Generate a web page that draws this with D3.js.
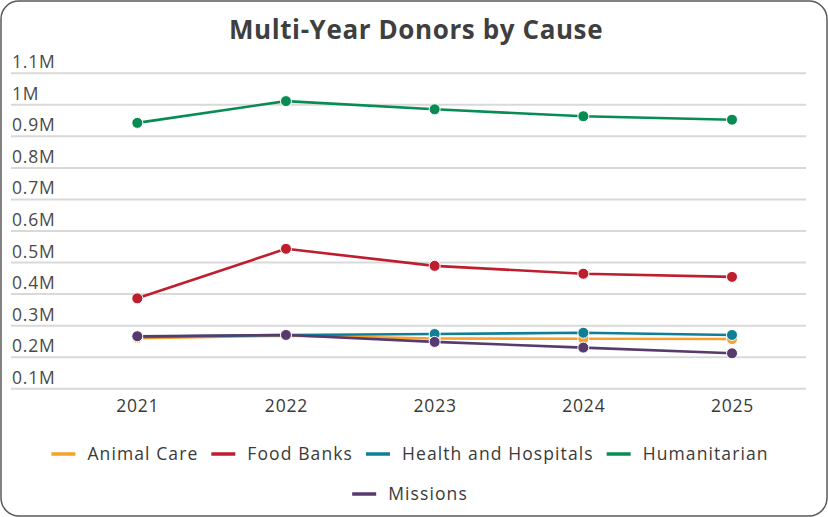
<!DOCTYPE html>
<html>
<head>
<meta charset="utf-8">
<script src="https://cdn.jsdelivr.net/npm/d3@7"></script>
<style>
  html, body { margin: 0; padding: 0; background: #fff; }
  svg { display: block; font-family: "Open Sans", "Noto Sans", sans-serif; }
</style>
</head>
<body>
<svg id="chart" width="828" height="517"></svg>
<script>
// Years on the x axis
const years = ["2021", "2022", "2023", "2024", "2025"];

// Multi-year donors per cause
const animalCare      = [259000, 267000, 258000, 257000, 256000];
const foodBanks       = [385000, 542000, 488000, 463000, 453000];
const healthHospitals = [263000, 269000, 272000, 276000, 269000];
const humanitarian    = [941000, 1010000, 984000, 962000, 951000];
const missions        = [265000, 269000, 247000, 229000, 211000];

const seriesNames  = ["Animal Care", "Food Banks", "Health and Hospitals", "Humanitarian", "Missions"];
const seriesColors = ["#f7a12c", "#be1e2d", "#0f7f97", "#078c53", "#573a6e"];

// Y axis ticks and their labels
const yTicks  = [100000, 200000, 300000, 400000, 500000, 600000, 700000, 800000, 900000, 1000000, 1100000];
const yLabels = ["0.1M", "0.2M", "0.3M", "0.4M", "0.5M", "0.6M", "0.7M", "0.8M", "0.9M", "1M", "1.1M"];

const series = [animalCare, foodBanks, healthHospitals, humanitarian, missions].map((values, i) => ({
  name: seriesNames[i],
  color: seriesColors[i],
  values: values.map((v, j) => ({ year: years[j], value: v }))
}));

const svg = d3.select("#chart");
const W = 828, H = 517;

// Card frame
svg.append("rect")
  .attr("x", 1).attr("y", 1)
  .attr("width", W - 2).attr("height", H - 2)
  .attr("rx", 18).attr("ry", 18)
  .attr("fill", "#fff")
  .attr("stroke", "#595959")
  .attr("stroke-width", 1.5);

// Title
svg.append("text")
  .attr("x", 416).attr("y", 39)
  .attr("text-anchor", "middle")
  .attr("font-size", 26)
  .attr("font-weight", 700)
  .attr("letter-spacing", 0.6)
  .attr("fill", "#3f3f3f")
  .text("Multi-Year Donors by Cause");

const gridLeft = 11, gridRight = 806;

const x = d3.scalePoint().domain(years).range([137.3, 732]);
const y = d3.scaleLinear().domain([100000, 1100000]).range([388.3, 72.7]);

// Gridlines with labels sitting on top of each line
const yAxis = svg.append("g")
  .attr("transform", `translate(${gridLeft},0)`)
  .call(d3.axisRight(y)
    .tickValues(yTicks)
    .tickSize(gridRight - gridLeft)
    .tickFormat((d, i) => yLabels[i]));
yAxis.select(".domain").remove();
yAxis.selectAll(".tick line")
  .attr("stroke", "#d9d9d9")
  .attr("stroke-width", 2);
yAxis.selectAll(".tick text")
  .attr("x", 1)
  .attr("y", -5)
  .attr("dy", 0)
  .attr("text-anchor", "start")
  .attr("font-size", 17.5)
  .attr("letter-spacing", 0.8)
  .attr("font-family", "Open Sans, sans-serif")
  .attr("fill", "#4a4a4a");

// Year labels
const xAxis = svg.append("g")
  .attr("transform", "translate(0,388.3)")
  .call(d3.axisBottom(x).tickSize(0).tickPadding(11));
xAxis.select(".domain").remove();
xAxis.selectAll(".tick text")
  .attr("font-size", 17.5)
  .attr("letter-spacing", 0.8)
  .attr("font-family", "Open Sans, sans-serif")
  .attr("fill", "#3a3a3a");

// Lines and markers, one group per series
const line = d3.line().x(d => x(d.year)).y(d => y(d.value));

series.forEach(s => {
  const g = svg.append("g");
  g.append("path")
    .datum(s.values)
    .attr("d", line)
    .attr("fill", "none")
    .attr("stroke", s.color)
    .attr("stroke-width", 2.6)
    .attr("stroke-linejoin", "round");
  g.selectAll("circle")
    .data(s.values)
    .join("circle")
    .attr("cx", d => x(d.year))
    .attr("cy", d => y(d.value))
    .attr("r", 5.5)
    .attr("fill", s.color)
    .attr("stroke", "#fff")
    .attr("stroke-width", 1);
});

// Legend: wraps into centred rows
const legend = svg.append("g");
const symbolW = 24, symbolGap = 12, itemGap = 13, rowMax = 780;
const legendCenter = 410;
const rowY = [454, 494];

const items = series.map(s => {
  const g = legend.append("g");
  g.append("line")
    .attr("x1", 0).attr("x2", symbolW)
    .attr("y1", 0).attr("y2", 0)
    .attr("stroke", s.color)
    .attr("stroke-width", 3.5);
  const t = g.append("text")
    .attr("x", symbolW + symbolGap)
    .attr("y", 0)
    .attr("dy", "0.35em")
    .attr("font-size", 17.5)
    .attr("letter-spacing", 1.1)
    .attr("fill", "#3a3a3a")
    .text(s.name);
  const w = symbolW + symbolGap + t.node().getComputedTextLength();
  return { g, w };
});

const rows = [[]];
let acc = 0;
items.forEach(it => {
  const add = (rows[rows.length - 1].length ? itemGap : 0) + it.w;
  if (acc + add > rowMax && rows[rows.length - 1].length) {
    rows.push([it]);
    acc = it.w;
  } else {
    rows[rows.length - 1].push(it);
    acc += add;
  }
});

rows.forEach((row, r) => {
  const total = d3.sum(row, d => d.w) + itemGap * (row.length - 1);
  let cx = legendCenter - total / 2;
  row.forEach(it => {
    it.g.attr("transform", `translate(${cx},${rowY[r]})`);
    cx += it.w + itemGap;
  });
});
</script>
</body>
</html>
